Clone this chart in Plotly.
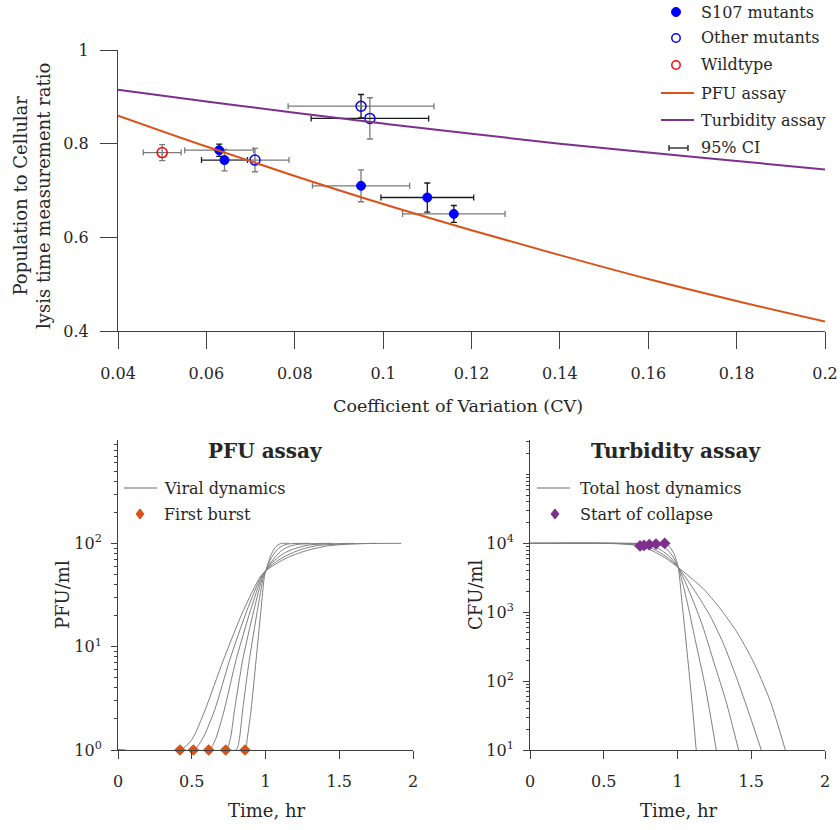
import plotly.graph_objects as go

W, H = 840, 830

# ---------------- Top panel data ----------------
cv_grid = [0.04, 0.06, 0.08, 0.10, 0.12, 0.14, 0.16, 0.18, 0.20]
pfu_ratio = [0.860, 0.794, 0.731, 0.671, 0.615, 0.562, 0.511, 0.464, 0.420]
turb_ratio = [0.915, 0.890, 0.866, 0.843, 0.821, 0.800, 0.781, 0.763, 0.745]

s107_cv = [0.0629, 0.0641, 0.095, 0.110, 0.116]
s107_ratio = [0.786, 0.765, 0.710, 0.685, 0.650]
s107_cv_err = [0.0078, 0.0052, 0.011, 0.0105, 0.0116]
s107_ratio_err = [0.013, 0.023, 0.034, 0.031, 0.018]

other_cv = [0.071, 0.095, 0.097]
other_ratio = [0.765, 0.880, 0.854]
other_cv_err = [0.0077, 0.0165, 0.0133]
other_ratio_err = [0.025, 0.025, 0.044]

wt_cv = [0.050]
wt_ratio = [0.781]
wt_cv_err = [0.0043]
wt_ratio_err = [0.017]

x_ticks_top = [0.04, 0.06, 0.08, 0.10, 0.12, 0.14, 0.16, 0.18, 0.20]
x_ticklabels_top = ["0.04", "0.06", "0.08", "0.1", "0.12", "0.14", "0.16", "0.18", "0.2"]
y_ticks_top = [0.4, 0.6, 0.8, 1.0]
y_ticklabels_top = ["0.4", "0.6", "0.8", "1"]

# ---------------- Bottom-left: PFU assay (t in hr, log10 PFU/ml) ----------------
viral_t = [
    [0, 0.42, 0.50, 0.59, 0.714, 0.85, 0.963, 1.003, 1.07, 1.16, 1.28, 1.42, 1.60, 1.92],
    [0, 0.511, 0.57, 0.655, 0.757, 0.874, 0.969, 1.003, 1.06, 1.14, 1.24, 1.36, 1.75],
    [0, 0.615, 0.66, 0.72, 0.80, 0.898, 0.975, 1.003, 1.05, 1.12, 1.20, 1.30, 1.60],
    [0, 0.73, 0.76, 0.79, 0.845, 0.921, 0.98, 1.003, 1.05, 1.10, 1.15, 1.22, 1.45],
    [0, 0.80, 0.822, 0.845, 0.89, 0.945, 0.986, 1.003, 1.04, 1.08, 1.12, 1.16, 1.30],
    [0, 0.861, 0.875, 0.902, 0.936, 0.969, 0.992, 1.003, 1.035, 1.065, 1.09, 1.11, 1.16],
]
viral_log = [
    [0, 0, 0.1, 0.386, 0.869, 1.35, 1.673, 1.737, 1.80, 1.87, 1.93, 1.975, 1.995, 2.0],
    [0, 0, 0.1, 0.386, 0.869, 1.35, 1.673, 1.737, 1.81, 1.88, 1.94, 1.98, 2.0],
    [0, 0, 0.1, 0.386, 0.869, 1.35, 1.673, 1.737, 1.82, 1.90, 1.95, 1.985, 2.0],
    [0, 0, 0.1, 0.386, 0.869, 1.35, 1.673, 1.737, 1.84, 1.92, 1.965, 1.99, 2.0],
    [0, 0, 0.1, 0.386, 0.869, 1.35, 1.673, 1.737, 1.86, 1.94, 1.98, 1.995, 2.0],
    [0, 0, 0.1, 0.386, 0.869, 1.35, 1.673, 1.737, 1.88, 1.96, 1.99, 2.0, 2.0],
]
burst_t = [0.42, 0.511, 0.615, 0.73, 0.861]
burst_log = [0, 0, 0, 0, 0]

# ---------------- Bottom-right: Turbidity assay (t in hr, log10 CFU/ml) ----------------
host_t = [
    [0, 0.50, 0.62, 0.746, 0.85, 0.93, 1.005, 1.175, 1.29, 1.40, 1.51, 1.627, 1.731],
    [0, 0.55, 0.66, 0.773, 0.87, 0.94, 1.005, 1.12, 1.22, 1.31, 1.40, 1.49, 1.568],
    [0, 0.60, 0.70, 0.809, 0.89, 0.95, 1.005, 1.09, 1.17, 1.25, 1.33, 1.414],
    [0, 0.65, 0.75, 0.854, 0.92, 0.965, 1.005, 1.06, 1.12, 1.19, 1.263],
    [0, 0.70, 0.82, 0.913, 0.95, 0.98, 1.005, 1.03, 1.066, 1.10, 1.127],
]
host_log = [
    [4, 4.0, 3.99, 3.963, 3.87, 3.77, 3.65, 3.34, 3.05, 2.72, 2.30, 1.72, 1.0],
    [4, 4.0, 3.99, 3.97, 3.88, 3.78, 3.65, 3.30, 2.95, 2.55, 2.05, 1.5, 1.0],
    [4, 4.0, 3.992, 3.98, 3.90, 3.80, 3.65, 3.25, 2.80, 2.25, 1.70, 1.0],
    [4, 4.0, 3.995, 3.99, 3.93, 3.82, 3.65, 3.20, 2.60, 1.90, 1.0],
    [4, 4.0, 4.0, 4.0, 3.94, 3.83, 3.65, 3.15, 2.40, 1.65, 1.0],
]
collapse_t = [0.746, 0.773, 0.809, 0.854, 0.913]
collapse_log = [3.963, 3.97, 3.98, 3.99, 4.0]

time_ticks = [0, 0.5, 1, 1.5, 2]
time_ticklabels = ["0", "0.5", "1", "1.5", "2"]
pfu_ticks = [1, 10, 100]
pfu_ticklabels = ["10<sup>0</sup>", "10<sup>1</sup>", "10<sup>2</sup>"]
cfu_ticks = [10, 100, 1000, 10000]
cfu_ticklabels = ["10<sup>1</sup>", "10<sup>2</sup>", "10<sup>3</sup>", "10<sup>4</sup>"]

# ---------------- styles ----------------
FONT = "DejaVu Serif"
TXT = "#262626"
AX = "#404040"
ORANGE = "#D95319"
PURPLE = "#7E2F8E"
BLUE = "#0000FF"
RED = "#FF0000"
GRAYLINE = "#7f7f7f"
DARK_EB = "#1a1a1a"
GRAY_EB = "#7a7a7a"
s107_hcol = [GRAY_EB, DARK_EB, GRAY_EB, DARK_EB, GRAY_EB]
s107_vcol = [DARK_EB, GRAY_EB, GRAY_EB, DARK_EB, DARK_EB]
other_hcol = [GRAY_EB, GRAY_EB, DARK_EB]
other_vcol = [GRAY_EB, DARK_EB, GRAY_EB]
wt_hcol = [GRAY_EB]
wt_vcol = [GRAY_EB]


def pxx(x):
    return x / W


def pyy(y):
    return 1 - y / H


fig = go.Figure()

# error bars (one trace per point so each bar keeps its own shade)
for xs, ys, exs, eys, hcs, vcs in [
    (wt_cv, wt_ratio, wt_cv_err, wt_ratio_err, wt_hcol, wt_vcol),
    (s107_cv, s107_ratio, s107_cv_err, s107_ratio_err, s107_hcol, s107_vcol),
    (other_cv, other_ratio, other_cv_err, other_ratio_err, other_hcol, other_vcol),
]:
    for x, y, ex, ey, hc, vc in zip(xs, ys, exs, eys, hcs, vcs):
        fig.add_trace(go.Scatter(
            x=[x], y=[y], mode="markers",
            marker=dict(size=1, color="rgba(0,0,0,0)"),
            error_x=dict(type="data", array=[ex], color=hc, thickness=1.3, width=3),
            error_y=dict(type="data", array=[ey], color=vc, thickness=1.3, width=3),
            showlegend=False, hoverinfo="skip", xaxis="x", yaxis="y"))

fig.add_trace(go.Scatter(x=s107_cv, y=s107_ratio, mode="markers",
                         marker=dict(size=9, color=BLUE, line=dict(width=1, color=BLUE)),
                         showlegend=False, xaxis="x", yaxis="y"))
fig.add_trace(go.Scatter(x=other_cv, y=other_ratio, mode="markers",
                         marker=dict(size=10, symbol="circle-open", color=BLUE, line=dict(width=1.5)),
                         showlegend=False, xaxis="x", yaxis="y"))
fig.add_trace(go.Scatter(x=wt_cv, y=wt_ratio, mode="markers",
                         marker=dict(size=10, symbol="circle-open", color=RED, line=dict(width=1.5)),
                         showlegend=False, xaxis="x", yaxis="y"))
fig.add_trace(go.Scatter(x=cv_grid, y=pfu_ratio, mode="lines", line=dict(color=ORANGE, width=2, shape="spline"),
                         showlegend=False, xaxis="x", yaxis="y"))
fig.add_trace(go.Scatter(x=cv_grid, y=turb_ratio, mode="lines", line=dict(color=PURPLE, width=2, shape="spline"),
                         showlegend=False, xaxis="x", yaxis="y"))

# bottom-left
for t, L in zip(viral_t, viral_log):
    fig.add_trace(go.Scatter(x=t, y=[10 ** v for v in L], mode="lines",
                             line=dict(color=GRAYLINE, width=1, shape="spline", smoothing=0.7),
                             showlegend=False, xaxis="x2", yaxis="y2"))
fig.add_trace(go.Scatter(x=burst_t, y=[10 ** v for v in burst_log], mode="markers",
                         marker=dict(symbol="diamond", size=9, color=ORANGE),
                         showlegend=False, xaxis="x2", yaxis="y2", cliponaxis=False))

# bottom-right
for t, L in zip(host_t, host_log):
    fig.add_trace(go.Scatter(x=t, y=[10 ** v for v in L], mode="lines",
                             line=dict(color=GRAYLINE, width=1, shape="spline", smoothing=0.7),
                             showlegend=False, xaxis="x3", yaxis="y3"))
fig.add_trace(go.Scatter(x=collapse_t, y=[10 ** v for v in collapse_log], mode="markers",
                         marker=dict(symbol="diamond", size=9, color=PURPLE),
                         showlegend=False, xaxis="x3", yaxis="y3", cliponaxis=False))

common_ax = dict(showgrid=False, zeroline=False, showline=True, linecolor=AX, linewidth=1,
                 ticks="outside", tickcolor=AX, tickwidth=1, automargin=False,
                 tickfont=dict(family=FONT, size=16, color=TXT), mirror=False)

minor_pfu = [m * 10 ** e for e in range(0, 3) for m in range(2, 10)]
minor_cfu = [m * 10 ** e for e in range(1, 5) for m in range(2, 10)] + [1e5, 2e5, 3e5]

fig.update_layout(
    width=W, height=H, margin=dict(l=0, r=0, t=0, b=0),
    paper_bgcolor="white", plot_bgcolor="white", showlegend=False,
    xaxis=dict(domain=[118 / W, 825 / W], range=[0.04, 0.2], tickmode="array",
               tickvals=x_ticks_top, ticktext=x_ticklabels_top, ticklen=17, ticklabelstandoff=11,
               anchor="y", **common_ax),
    yaxis=dict(domain=[1 - 331 / H, 1 - 50 / H], range=[0.4, 1.0], tickmode="array",
               tickvals=y_ticks_top, ticktext=y_ticklabels_top, ticklen=17, ticklabelstandoff=8,
               anchor="x", **common_ax),
    xaxis2=dict(domain=[118 / W, 413 / W], range=[0, 2], tickmode="array",
                tickvals=time_ticks, ticktext=time_ticklabels, ticklen=8, ticklabelstandoff=9,
                anchor="y2", **common_ax),
    yaxis2=dict(domain=[1 - 750 / H, 1 - 440 / H], type="log", range=[0, 3], tickmode="array",
                tickvals=pfu_ticks, ticktext=pfu_ticklabels, ticklen=6, ticklabelstandoff=6, anchor="x2",
                minor=dict(tickmode="array", tickvals=minor_pfu, ticks="outside", ticklen=3, tickcolor=AX, showgrid=False),
                **common_ax),
    xaxis3=dict(domain=[530 / W, 825 / W], range=[0, 2], tickmode="array",
                tickvals=time_ticks, ticktext=time_ticklabels, ticklen=8, ticklabelstandoff=9,
                anchor="y3", **common_ax),
    yaxis3=dict(domain=[1 - 750 / H, 1 - 440 / H], type="log", range=[1, 5.5], tickmode="array",
                tickvals=cfu_ticks, ticktext=cfu_ticklabels, ticklen=6, ticklabelstandoff=6, anchor="x3",
                minor=dict(tickmode="array", tickvals=minor_cfu, ticks="outside", ticklen=3, tickcolor=AX, showgrid=False),
                **common_ax),
)

ann = []


def text(x, y, s, size=17, xanchor="center", angle=0, bold=False):
    ann.append(dict(x=pxx(x), y=pyy(y), xref="paper", yref="paper", text=("<b>%s</b>" % s) if bold else s,
                    showarrow=False, xanchor=xanchor, yanchor="middle", textangle=angle,
                    font=dict(family=FONT, size=size, color=TXT)))


# axis titles
text(458, 406, "Coefficient of Variation (CV)", 17.5)
text(32, 196, "Population to Cellular<br>lysis time measurement ratio", 18, angle=-90)
text(62, 595, "PFU/ml", 18, angle=-90)
text(475, 595, "CFU/ml", 18, angle=-90)
text(267, 810, "Time, hr", 18)
text(679, 810, "Time, hr", 18)
text(265, 451, "PFU assay", 20, bold=True)
text(676, 451, "Turbidity assay", 20, bold=True)

# top legend
leg_rows = [12, 38, 65, 93, 120, 148]
leg_labels = ["S107 mutants", "Other mutants", "Wildtype", "PFU assay", "Turbidity assay", "95% CI"]
for r, s in zip(leg_rows, leg_labels):
    text(699, r, s, 16, xanchor="left")
# bottom legends
text(162, 488, "Viral dynamics", 16, xanchor="left")
text(162, 514, "First burst", 16, xanchor="left")
text(578, 488, "Total host dynamics", 16, xanchor="left")
text(578, 514, "Start of collapse", 16, xanchor="left")

shapes = []


def circle(cx, cy, r, fill, line, lw):
    shapes.append(dict(type="circle", xref="paper", yref="paper",
                       x0=pxx(cx - r), x1=pxx(cx + r), y0=pyy(cy + r), y1=pyy(cy - r),
                       fillcolor=fill, line=dict(color=line, width=lw)))


def seg(x0, y0, x1, y1, color, lw):
    shapes.append(dict(type="line", xref="paper", yref="paper",
                       x0=pxx(x0), x1=pxx(x1), y0=pyy(y0), y1=pyy(y1), line=dict(color=color, width=lw)))


def diamond(cx, cy, color):
    pts = [(cx, cy - 5), (cx + 4, cy), (cx, cy + 5), (cx - 4, cy)]
    path = "M " + " L ".join("%f,%f" % (pxx(a), pyy(b)) for a, b in pts) + " Z"
    shapes.append(dict(type="path", xref="paper", yref="paper", path=path,
                       fillcolor=color, line=dict(color=color, width=1)))


circle(676, 12, 4.5, BLUE, BLUE, 1)
circle(676, 38, 4.2, "rgba(0,0,0,0)", BLUE, 1.5)
circle(676, 65, 4.2, "rgba(0,0,0,0)", RED, 1.5)
seg(661, 93, 694, 93, ORANGE, 2)
seg(661, 120, 694, 120, PURPLE, 2)
seg(669, 148, 688, 148, DARK_EB, 1.3)
seg(669, 145, 669, 151, DARK_EB, 1.3)
seg(688, 145, 688, 151, DARK_EB, 1.3)
seg(124, 488, 157, 488, "#9a9a9a", 1.5)
diamond(140, 514, ORANGE)
seg(537, 488, 570, 488, "#9a9a9a", 1.5)
diamond(555, 514, PURPLE)

fig.update_layout(annotations=ann, shapes=shapes)
fig.write_html("out.html", config={"displayModeBar": False},
               post_script="document.body.style.margin='0';document.body.style.padding='0';"
                           "document.body.style.overflow='hidden';")
